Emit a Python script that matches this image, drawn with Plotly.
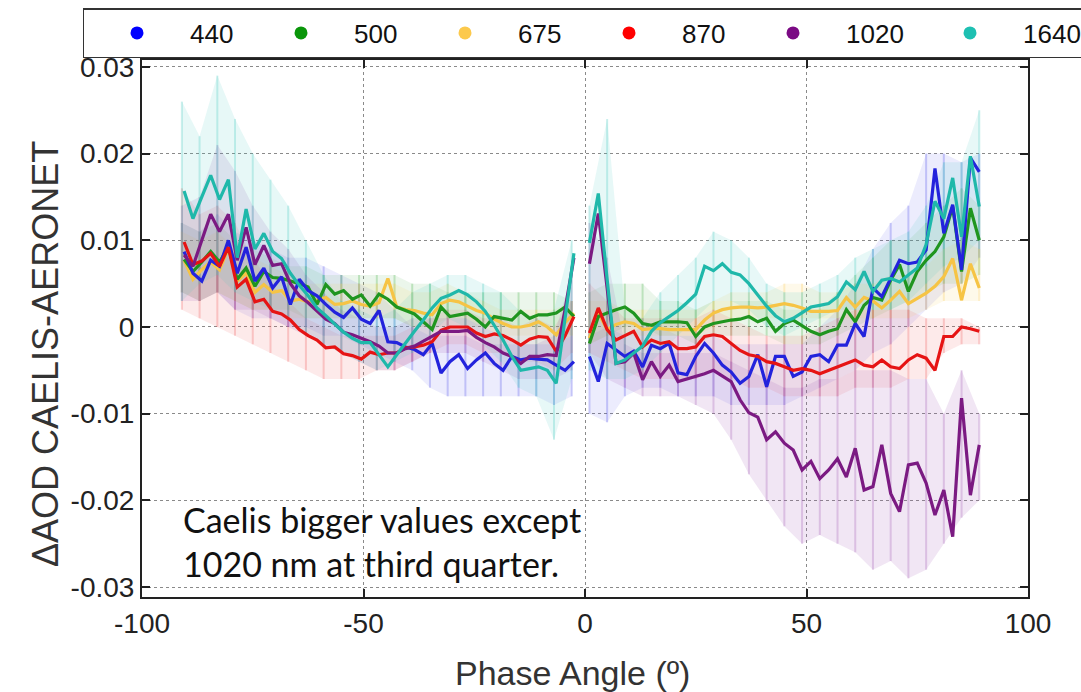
import plotly.graph_objects as go

# Phase-angle bins (degrees): morning branch (negative) and afternoon branch (positive)
phase = [-90.5, -88.5, -86.5, -84.5, -82.5, -80.5, -78.5, -76.5, -74.5, -72.5,
         -70.5, -68.5, -66.5, -64.5, -62.5, -60.5, -58.5, -56.5, -54.5, -52.5,
         -50.5, -48.5, -46.5, -44.5, -42.5, -40.5, -38.5, -36.5, -34.5, -32.5,
         -30.5, -28.5, -26.5, -24.5, -22.5, -20.5, -18.5, -16.5, -14.5, -12.5,
         -10.5, -8.5, -6.5, -4.5, -2.5,
         1, 3, 5, 7, 9, 11, 13, 15, 17, 19,
         21, 23, 25, 27, 29, 31, 33, 35, 37, 39,
         41, 43, 45, 47, 49, 51, 53, 55, 57, 59,
         61, 63, 65, 67, 69, 71, 73, 75, 77, 79,
         81, 83, 85, 87, 89]

# Binned mean ΔAOD (CAELIS - AERONET), in units of 1e-3
d440 = [8.7, 6.2, 5.3, 7.7, 7.0, 10.0, 6.2, 9.2, 5.3, 6.8,
        4.5, 5.8, 2.6, 5.5, 4.2, 3.6, 2.6, 1.7, 1.1, 2.2,
        0.9, 0.4, 1.9, -1.7, -1.8, -2.3, -2.6, -3.2, -1.9, -5.3,
        -4.0, -3.2, -4.8, -3.8, -3.0, -4.2, -5.0, -3.4, -3.8, -3.6,
        -3.7, -3.8, -4.4, -5.0, -4.0,
        -3.4, -6.3, -1.9, -2.6, -3.4, -2.8, -4.6, -2.1, -2.5, -1.9,
        -5.3, -5.5, -3.4, -1.9, -3.0, -4.4, -5.2, -6.5, -5.7, -3.2,
        -6.9, -3.4, -3.4, -5.7, -5.2, -3.4, -3.2, -4.0, -2.1, -2.1,
        0.4, -1.1, 4.5, 3.5, 5.6, 7.7, 7.3, 7.5, 8.9, 18.3,
        10.8, 14.1, 6.6, 19.5, 17.9]

d500 = [7.8, 6.4, 7.5, 8.7, 7.5, 9.2, 5.5, 6.8, 4.7, 6.4,
        5.7, 5.6, 5.3, 5.0, 4.6, 2.6, 4.9, 3.8, 4.2, 3.2,
        3.7, 2.4, 3.8, 3.2, 2.3, 1.9, 1.5, 0.6, -0.3, 2.3,
        1.2, 1.4, 1.6, 0.9, 0.0, 1.2, 1.0, 0.8, 1.8, 1.0,
        1.4, 1.4, 1.6, 2.3, 1.2,
        -1.9, 1.2, 1.6, 2.0, 2.3, 1.6, 0.4, 0.2, 0.6, 0.6,
        0.6, 0.5, -1.1, 0.0, 0.4, 0.6, 0.8, 0.9, 1.2, 0.6,
        1.0, -0.5, 0.4, 0.8, 0.2, -0.5, -0.9, -0.5, -0.2, 2.0,
        0.6, 2.5, 3.4, 3.1, 5.4, 7.2, 4.1, 6.4, 7.7, 8.7,
        10.4, 13.9, 6.4, 13.7, 10.0]

d675 = [7.7, 5.5, 6.6, 7.5, 6.6, 9.1, 5.3, 6.2, 4.0, 4.9,
        4.0, 4.2, 3.0, 3.2, 2.9, 3.1, 3.4, 2.6, 2.7, 3.0,
        2.6, 2.4, 2.8, 5.6, 2.3, 2.0, 1.9, 1.6, 1.4, 2.7,
        3.1, 2.9, 2.4, 1.9, 1.6, 0.9, 0.4, 0.0, 0.0, 0.2,
        0.6, 0.0, -0.9, 0.5, 1.6,
        -1.3, 1.6, -0.3, 0.3, 0.6, 0.4, -0.3, -0.2, -0.2, -0.3,
        -0.3, -0.3, -0.3, 0.8, 1.6, 2.0, 2.2, 2.3, 2.3, 2.2,
        2.3, 2.5, 2.7, 2.5, 2.2, 1.8, 1.8, 1.8, 1.9, 3.4,
        2.3, 3.4, 3.0, 2.2, 3.1, 4.1, 2.7, 3.3, 3.9, 4.7,
        5.8, 7.9, 3.1, 7.3, 4.5]

d870 = [9.8, 7.2, 7.6, 8.5, 7.0, 9.2, 4.6, 5.5, 2.9, 3.2,
        1.8, 1.5, 0.8, -0.3, -1.0, -1.5, -2.4, -2.3, -3.1, -3.3,
        -3.7, -2.9, -3.2, -3.0, -3.0, -2.4, -2.3, -2.1, -1.7, -0.4,
        0.0, 0.0, 0.0, -0.7, -1.1, -0.8, -1.0, -1.5, -2.1, -1.4,
        -1.1, -1.2, -2.8, -1.0, 1.2,
        -0.7, 2.2, -0.3, -1.5, -1.0, -0.5, -2.3, -1.5, -1.9, -1.7,
        -2.5, -2.5, -2.3, -1.1, -0.9, -1.1, -1.9, -2.7, -3.2, -3.4,
        -4.0, -4.2, -4.6, -5.0, -4.8, -5.0, -5.4, -5.0, -4.6, -4.2,
        -3.8, -4.4, -4.6, -3.8, -4.6, -4.8, -3.8, -3.2, -3.6, -5.0,
        -1.1, -1.1, 0.0, -0.2, -0.5]

d1020 = [8.3, 7.0, 10.0, 13.0, 11.0, 13.0, 7.7, 11.5, 7.2, 9.4,
         7.1, 7.3, 5.0, 3.6, 2.8, 1.9, 0.9, 0.4, -0.6, -0.9,
         -1.3, -1.7, -2.2, -3.0, -3.0, -2.5, -2.2, -1.6, -1.0, -0.5,
         -0.5, -0.5, -0.4, -1.2, -1.8, -2.3, -3.0, -3.4, -4.2, -3.4,
         -3.4, -3.2, -3.3, 2.0, 8.0,
         7.3, 13.1, 4.5, -4.2, -4.0, -3.0, -6.1, -4.0, -5.7, -4.4,
         -6.3, -6.0, -5.7, -5.4, -5.0, -5.6, -6.3, -8.4, -9.9, -10.4,
         -13.0, -12.1, -13.4, -14.2, -16.5, -15.5, -17.5, -16.5, -15.2, -17.3,
         -14.0, -18.8, -18.4, -13.6, -19.2, -21.3, -15.9, -15.7, -18.0, -21.7,
         -18.8, -24.2, -8.2, -19.4, -13.6]

d1640 = [15.7, 12.5, 15.0, 17.5, 14.7, 17.0, 8.0, 13.6, 9.0, 10.8,
         8.7, 7.9, 6.2, 4.8, 3.6, 2.2, 1.3, 0.4, -0.6, -1.3,
         -1.8, -1.8, -3.2, -4.6, -3.2, -1.8, -0.5, 0.8, 2.2, 3.3,
         3.7, 4.2, 3.7, 2.9, 1.8, 0.2, -1.5, -3.4, -5.0, -4.8,
         -4.6, -5.0, -6.5, 1.0, 8.5,
         9.7, 15.4, 5.5, -4.2, -3.8, -3.0, -2.2, -0.5, 0.5, 1.2,
         1.9, 2.8, 3.8, 7.0, 6.5, 7.3, 6.3, 6.0, 5.0, 3.7,
         2.4, 1.3, 0.6, 1.0, 1.7, 2.3, 2.5, 2.7, 3.5, 5.2,
         4.3, 6.4, 4.1, 5.4, 5.6, 5.2, 6.0, 6.8, 9.5, 14.5,
         12.5, 17.2, 10.4, 19.7, 13.9]

# Spread of the individual comparisons around each bin (min / max), 1e-3 units
cloud_phase = [-91, -87, -83, -79, -75, -71, -67, -63, -59, -55, -51, -47,
               -43, -39, -35, -31, -27, -23, -19, -15, -11, -7, -3,
               1, 5, 9, 13, 17, 21, 25, 29, 33, 37, 41, 45,
               49, 53, 57, 61, 65, 69, 73, 77, 81, 85, 89]

lo440 = [4, 3, 4, 2, 1, 1, 0, 0, -1, -1, -2, -3, -4, -5, -7, -8, -8, -8, -8, -8, -8, -9, -8,
         -10, -11, -8, -7, -7, -8, -8, -8, -9, -9, -9, -9, -8, -7, -6, -5, -3, -2, 0, 2, 4, 5, 8]
hi440 = [12, 11, 13, 11, 10, 9, 8, 8, 7, 6, 5, 4, 2, 0, -1, -1, -1, -2, -2, -2, -2, -2, -1,
         -1, 0, -1, 0, 0, -1, -1, -1, -2, -2, -2, -2, -2, 0, 2, 5, 9, 12, 14, 20, 20, 19, 20]

lo500 = [4, 3, 4, 3, 2, 2, 2, 1, 1, 1, 1, 1, 1, 0, 0, 0, 0, 0, 0, 0, 0, 0, -1,
         -2, -1, 0, 0, -1, -1, -2, -1, -1, -1, -1, -2, -2, -2, -1, 0, 1, 2, 3, 4, 5, 5, 6]
hi500 = [12, 11, 12, 10, 9, 8, 7, 7, 6, 6, 6, 6, 6, 5, 5, 4, 4, 4, 4, 4, 4, 4, 3,
         4, 5, 5, 5, 3, 3, 2, 3, 3, 3, 3, 2, 2, 2, 4, 6, 8, 10, 10, 12, 14, 16, 14]

lo675 = [4, 3, 4, 3, 2, 2, 1, 1, 1, 1, 1, 1, 1, 0, 0, 1, 1, 0, -1, -1, -1, -2, -1,
         -2, -1, -1, -1, -1, -1, -1, 0, 1, 1, 1, 1, 1, 1, 1, 1, 1, 1, 1, 2, 3, 3, 3]
hi675 = [11, 10, 11, 9, 8, 7, 6, 5, 5, 5, 5, 5, 5, 4, 4, 5, 4, 3, 2, 2, 2, 2, 3,
         3, 3, 2, 2, 2, 2, 2, 3, 4, 4, 4, 5, 5, 4, 4, 5, 5, 6, 6, 7, 9, 10, 9]

lo870 = [2, 1, 0, -1, -2, -3, -4, -5, -6, -6, -6, -5, -5, -4, -3, -2, -2, -3, -3, -4, -4, -5, -3,
         -3, -4, -5, -6, -6, -6, -6, -5, -6, -7, -7, -8, -8, -8, -8, -7, -7, -7, -6, -6, -3, -2, -2]
hi870 = [16, 13, 14, 12, 8, 5, 3, 1, 0, -1, -1, -1, -1, 0, 1, 2, 2, 1, 1, 0, 1, 0, 3,
         5, 3, 1, 1, 1, 1, 1, 2, 1, 0, -1, -1, -1, 0, 1, 2, 2, 2, 2, 1, 1, 1, 0]

lo1020 = [3, 3, 4, 2, 2, 1, 0, -1, -2, -3, -4, -5, -5, -4, -3, -3, -3, -4, -5, -6, -6, -6, -5,
          -3, -6, -7, -8, -8, -8, -9, -10, -13, -17, -20, -23, -25, -24, -25, -26, -28, -27, -29, -28, -25, -22, -20]
hi1020 = [14, 15, 21, 18, 14, 11, 9, 6, 4, 2, 1, 0, 0, 1, 1, 1, 1, 0, -1, -2, -2, -1, 6,
          12, 8, -2, -3, -3, -3, -3, -3, -4, -5, -6, -7, -7, -6, -6, -5, -5, -5, -6, -6, -10, -5, -10]

lo1640 = [3, 5, 6, 4, 3, 2, 1, -1, -2, -3, -4, -5, -4, -3, -1, 1, 0, -2, -4, -7, -8, -13, -6,
          -5, -6, -6, -5, -3, -1, 1, 3, 3, 2, 0, -1, 0, 1, 2, 2, 2, 2, 3, 5, 7, 8, 10]
hi1640 = [26, 22, 29, 24, 20, 17, 14, 10, 6, 3, 2, 1, 2, 4, 5, 6, 6, 5, 4, 2, 1, 2, 10,
          14, 24, 2, 1, 4, 6, 8, 11, 10, 8, 5, 4, 4, 5, 6, 8, 9, 10, 11, 14, 19, 19, 25]

wavelengths = ["440", "500", "675", "870", "1020", "1640"]
line_colors = ["#2323dc", "#1f951f", "#f6c445", "#e61414", "#7b1a82", "#1fb8aa"]
dot_colors = ["#0000ff", "#0a960a", "#fcc94c", "#ff0000", "#7b0a84", "#1ec0b2"]
cloud_rgb = ["80,80,235", "70,175,70", "250,205,90", "240,90,90", "160,90,180", "70,200,190"]
cloud_alpha = [0.11, 0.11, 0.13, 0.13, 0.15, 0.13]
legend_widths = [53, 53, 53, 53, 66, 72]

series = [d440, d500, d675, d870, d1020, d1640]
lows = [lo440, lo500, lo675, lo870, lo1020, lo1640]
highs = [hi440, hi500, hi675, hi870, hi1020, hi1640]

SCALE = 1e-3
N_LEFT = 45          # bins on the negative branch
C_LEFT = 23          # spread samples on the negative branch

fig = go.Figure()

# Faint spread of individual measurements (drawn first, underneath the means)
for k in range(6):
    for a, b in ((0, C_LEFT), (C_LEFT, len(cloud_phase))):
        cx = cloud_phase[a:b]
        lo = [v * SCALE for v in lows[k][a:b]]
        hi = [v * SCALE for v in highs[k][a:b]]
        fig.add_trace(go.Scatter(
            x=cx + cx[::-1], y=hi + lo[::-1], mode="lines", fill="toself",
            fillcolor=f"rgba({cloud_rgb[k]},{cloud_alpha[k]})",
            line=dict(width=0), hoverinfo="skip", showlegend=False))
        sx, sy = [], []
        for xv, l, h in zip(cx, lo, hi):
            sx += [xv, xv, None]
            sy += [l, h, None]
        fig.add_trace(go.Scatter(
            x=sx, y=sy, mode="lines",
            line=dict(color=f"rgba({cloud_rgb[k]},0.28)", width=2),
            hoverinfo="skip", showlegend=False))

# Binned means, one line per branch
draw_order = [2, 1, 0, 3, 4, 5]
for k in draw_order:
    vals = series[k]
    for a, b in ((0, N_LEFT), (N_LEFT, len(phase))):
        fig.add_trace(go.Scatter(
            x=phase[a:b], y=[v * SCALE for v in vals[a:b]], mode="lines",
            line=dict(color=line_colors[k], width=3.2),
            name=wavelengths[k], showlegend=False))

# Legend entries (dots)
for k in range(6):
    fig.add_trace(go.Scatter(
        x=[None], y=[None], mode="markers", name=wavelengths[k],
        legendwidth=legend_widths[k],
        marker=dict(color=dot_colors[k], size=13)))

x_ticks = [-100, -50, 0, 50, 100]
x_ticktext = ["-100", "-50", "0", "50", "100"]
y_ticks = [-0.03, -0.02, -0.01, 0, 0.01, 0.02, 0.03]
y_ticktext = ["-0.03", "-0.02", "-0.01", "0", "0.01", "0.02", "0.03"]

SANS = "Liberation Sans, Arial, sans-serif"
axis_font = dict(family=SANS, size=28, color="#222")
common = dict(showline=True, linecolor="#222", linewidth=2, mirror="ticks",
              ticks="inside", ticklen=8, tickwidth=2, tickcolor="#222",
              showgrid=True, gridcolor="#8a8a8a", gridwidth=1, griddash="dot",
              zeroline=False, tickfont=axis_font)

fig.update_layout(
    width=1081, height=692,
    margin=dict(l=142, r=53, t=60, b=95, autoexpand=False),
    paper_bgcolor="white", plot_bgcolor="white",
    xaxis=dict(range=[-100, 100], tickvals=x_ticks, ticktext=x_ticktext, **common),
    yaxis=dict(range=[-0.03115, 0.0308], tickvals=y_ticks, ticktext=y_ticktext, **common),
    legend=dict(orientation="h", x=-(142 - 82.5) / 886, xanchor="left", y=1.0037, yanchor="bottom",
                bordercolor="#333", borderwidth=1.5, bgcolor="white", itemwidth=96,
                font=dict(family=SANS, size=26, color="#111")),
    annotations=[
        dict(text="Phase Angle (º)", xref="paper", yref="paper",
             x=(572 - 142) / 886, y=-(673 - 597) / 537, xanchor="center", yanchor="middle",
             showarrow=False, font=dict(family=SANS, size=34, color="#333")),
        dict(text="ΔAOD CAELIS-AERONET", xref="paper", yref="paper", textangle=-90,
             x=-(142 - 45) / 886, y=(597 - 354) / 537, xanchor="center", yanchor="middle",
             showarrow=False, font=dict(family=SANS, size=36, color="#333")),
        dict(text="Caelis bigger values except<br>1020 nm at third quarter.",
             xref="paper", yref="paper", x=(181 - 142) / 886, y=(597 - 541) / 537,
             xanchor="left", yanchor="middle", align="left", showarrow=False,
             font=dict(family="Lato, Carlito, sans-serif", size=34, color="#111")),
    ],
)

fig.write_html("out.html")
